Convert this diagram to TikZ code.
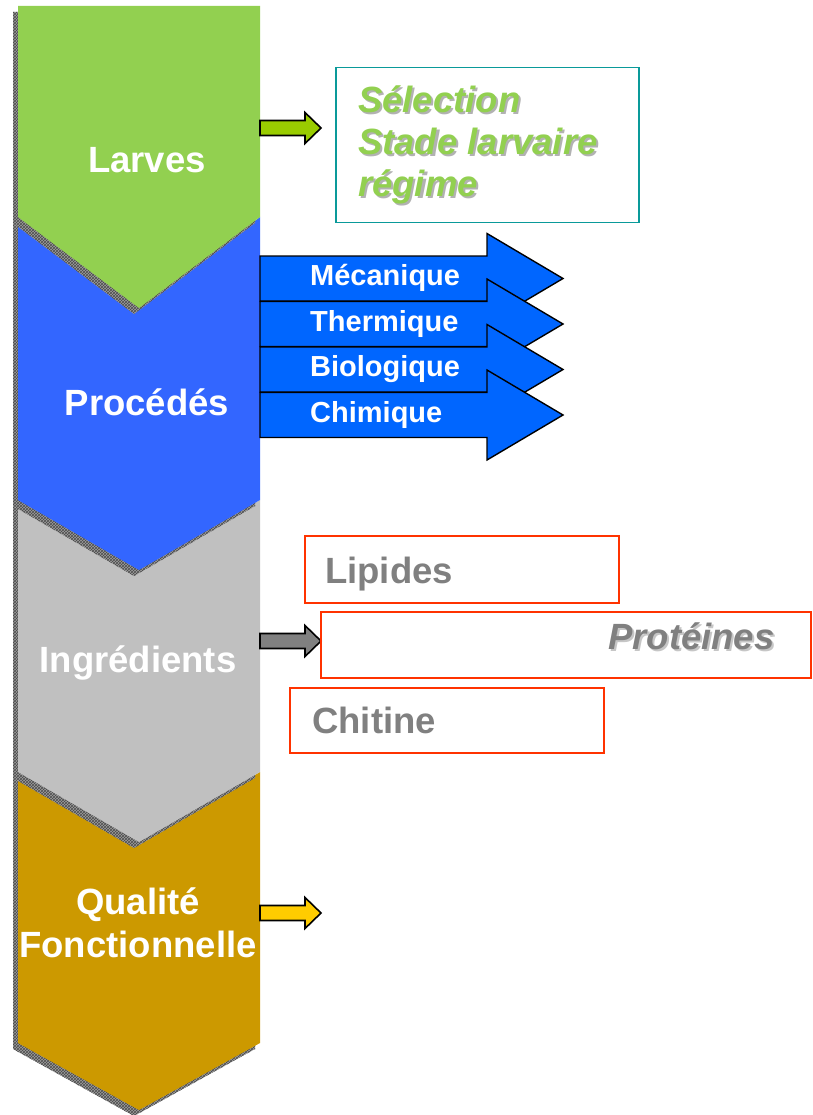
\documentclass[tikz,border=0pt]{standalone}
\usepackage{fontspec}
\setmainfont{Liberation Sans}
\usepackage{tikz}
\usepackage{xcolor}
\usetikzlibrary{arrows,calc,patterns}

\definecolor{larvegreen}{HTML}{92D050}
\definecolor{procblue}{HTML}{3366FF}
\definecolor{ingrgray}{HTML}{C0C0C0}
\definecolor{qualgold}{HTML}{CC9900}
\definecolor{arrowblue}{HTML}{0066FF}
\definecolor{smallgreen}{HTML}{99CC00}
\definecolor{smallgray}{HTML}{808080}
\definecolor{smallyellow}{HTML}{FFCC00}
\definecolor{boxteal}{HTML}{0A9A9A}
\definecolor{boxred}{HTML}{FF3300}
\definecolor{textgray}{HTML}{808080}

\begin{document}
\begin{tikzpicture}[x=1pt,y=-1pt,>=latex,
        chevshadow/.style={fill=gray!75,postaction={pattern=crosshatch,pattern color=black!70}},
        chevtext/.style={inner sep=0pt,anchor=base,text=white,align=center,
            font=\fontsize{36.5}{43}\selectfont\bfseries},
        proctext/.style={inner sep=0pt,anchor=base west,text=white,
            font=\fontsize{29}{32}\selectfont\bfseries},
        smallarrow/.style={draw=black,line width=1.6pt,line join=miter},
        boxtext/.style={inner sep=0pt,anchor=base west,
            font=\fontsize{36.5}{42}\selectfont\bfseries}]

        \useasboundingbox (0,0) rectangle (812,1115);

        % draw the chevrons, from the bottom one up
        \foreach \col/\yt/\yn/\yb/\yp in {
            qualgold/772/842/1043/1110,
            ingrgray/500/570/772/842,
            procblue/217/308/500/570} {
                % shadow behind the chevron
                \fill[chevshadow,shift={(-5,6)}] (18,\yt) -- (139,\yn) -- (260,\yt)
                    -- (260,\yb) -- (139,\yp) -- (18,\yb) -- cycle;
                % the chevron itself
                \fill[\col] (18,\yt) -- (139,\yn) -- (260,\yt)
                    -- (260,\yb) -- (139,\yp) -- (18,\yb) -- cycle;
        }
        % the first one has a flat top
        \fill[chevshadow,shift={(-5,6)}] (18,6) -- (260,6) -- (260,217) -- (139,308) -- (18,217) -- cycle;
        \fill[larvegreen] (18,6) -- (260,6) -- (260,217) -- (139,308) -- (18,217) -- cycle;

        % draw the chevron labels (base is the last line)
        \node[chevtext] (larves) at (147,173) {Larves};
        \node[chevtext] (procedes) at (147,415) {Procédés};
        \node[chevtext] (ingredients) at (138,672) {Ingrédients};
        \node[chevtext] (qualite) at (138,957) {Qualité\\Fonctionnelle};

        % draw the process arrows
        \foreach \i/\txt in {0/Mécanique,1/Thermique,2/Biologique,3/Chimique} {
                \pgfmathsetmacro\yc{278.5+45.5*\i}
                \filldraw[fill=arrowblue,draw=black,line width=1.4pt,line join=miter]
                    (260,\yc-22.5) -- (487,\yc-22.5) -- (487,\yc-45) -- (563,\yc)
                    -- (487,\yc+45) -- (487,\yc+22.5) -- (260,\yc+22.5) -- cycle;
                \node[proctext] (proc-\i) at (310,\yc+7) {\txt};
        }

        % draw the small arrows
        \foreach \col/\yc in {smallgreen/128,smallgray/641,smallyellow/913}
                \filldraw[smallarrow,fill=\col] (260,\yc-7.5) -- (305,\yc-7.5) -- (305,\yc-15.5)
                    -- (321,\yc) -- (305,\yc+15.5) -- (305,\yc+7.5) -- (260,\yc+7.5) -- cycle;

        % the box next to the larvae
        \node[draw=boxteal,line width=1.5pt,inner sep=0pt,anchor=north west,
              minimum width=303pt,minimum height=155pt] (selbox) at (335,67) {};
        \node[boxtext,text=gray!60,align=left] (selshadow) at (360,199)
            {\itshape Sélection\\\itshape Stade larvaire\\\itshape régime};
        \node[boxtext,text=larvegreen,align=left] (seltext) at (358,197)
            {\itshape Sélection\\\itshape Stade larvaire\\\itshape régime};

        % the boxes for the ingredients
        \foreach \nm/\x/\y/\w/\h in {lipbox/304/535/314/67,protbox/320/611/490/66,chitbox/289/687/314/65}
                \node[draw=boxred,line width=1.5pt,inner sep=0pt,anchor=north west,
                      minimum width=\w pt,minimum height=\h pt] (\nm) at (\x,\y) {};
        \node[boxtext,text=textgray] (lipides) at (325,583) {Lipides};
        \node[boxtext,text=gray!45] (protshadow) at (610,651) {\itshape Protéines};
        \node[boxtext,text=textgray] (proteines) at (608,649) {\itshape Protéines};
        \node[boxtext,text=textgray] (chitine) at (312,733) {Chitine};
    \end{tikzpicture}
\end{document}
